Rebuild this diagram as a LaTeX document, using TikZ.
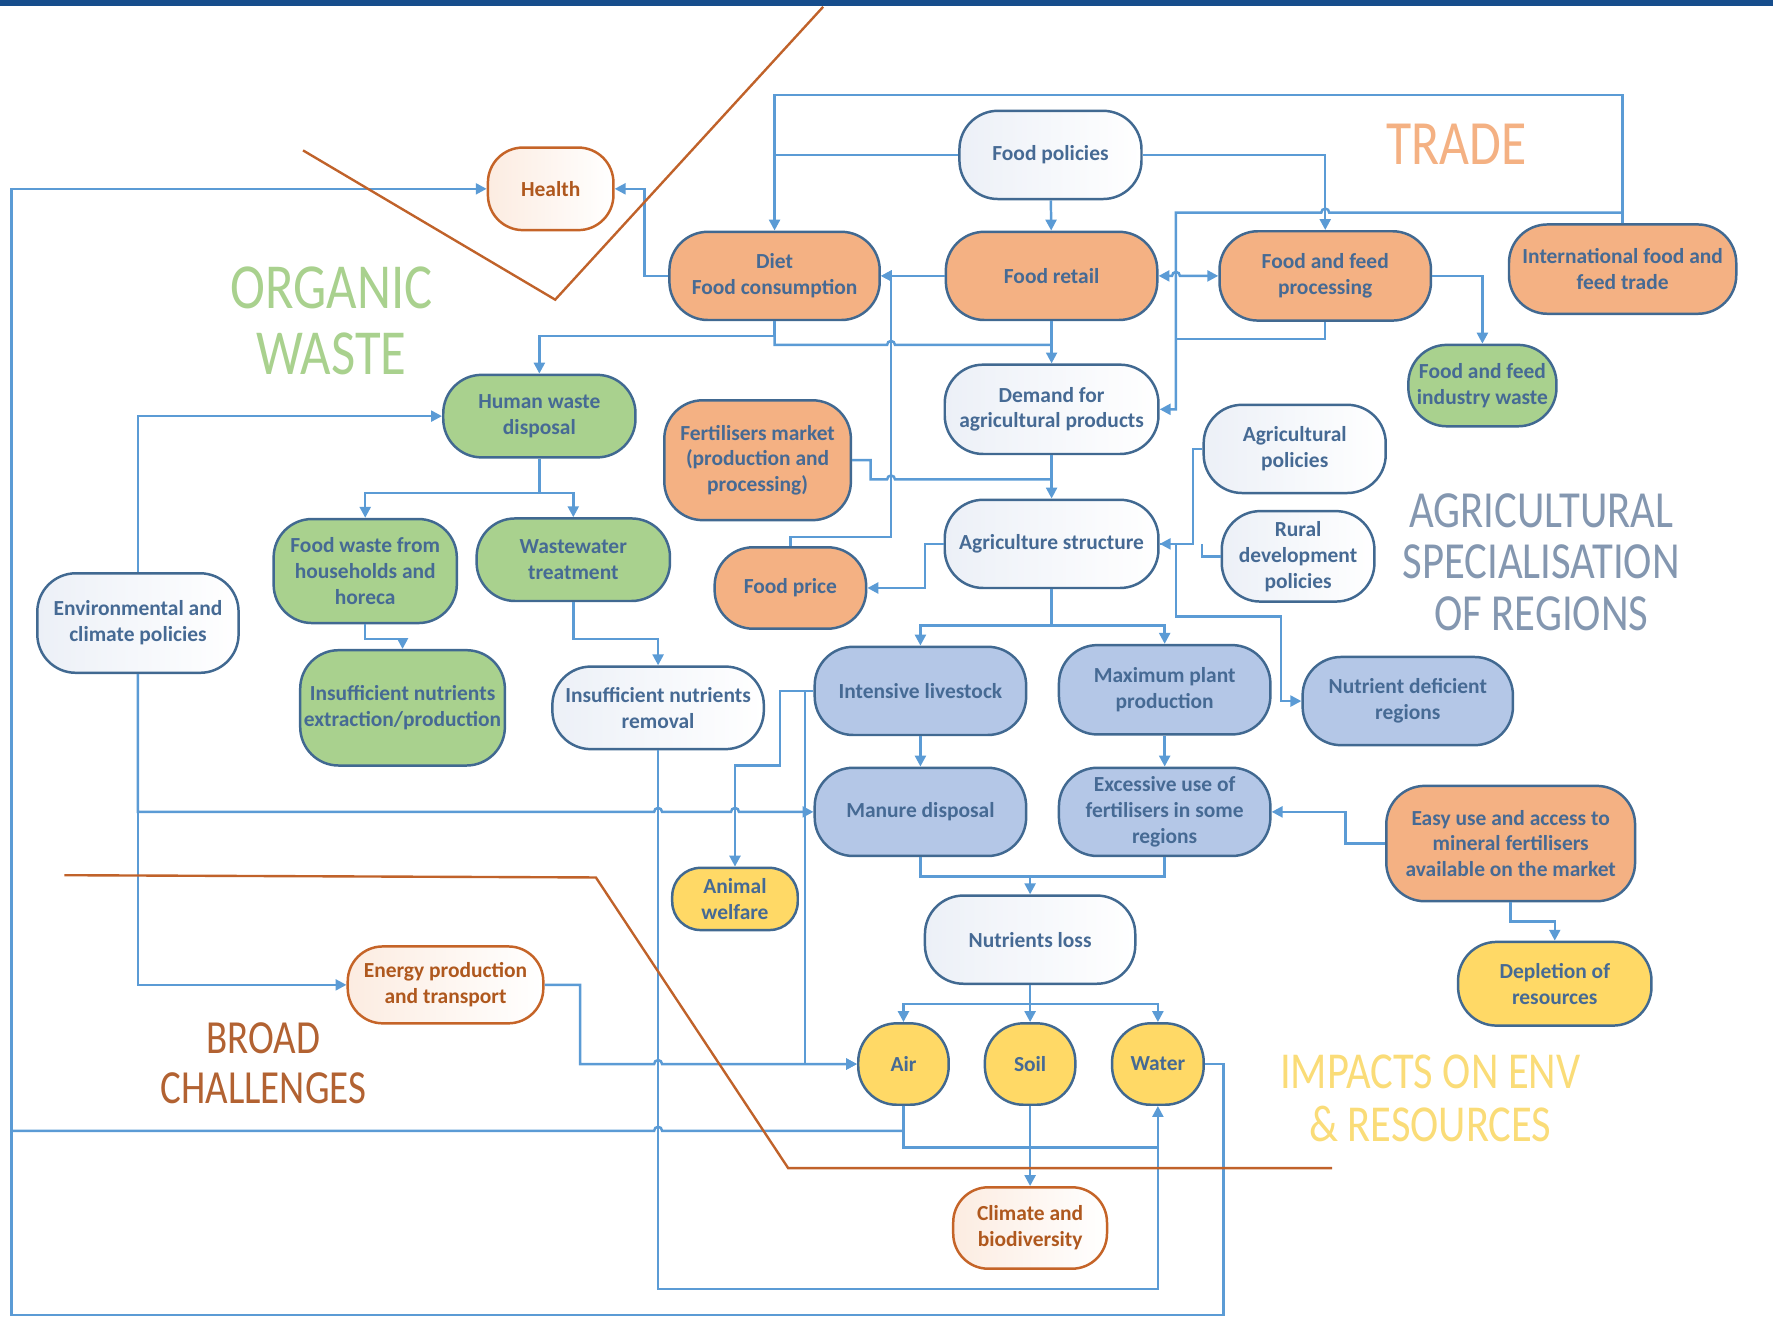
\documentclass[tikz,border=0pt]{standalone}
\usepackage{fontspec}
\setmainfont{Carlito}
\usepackage{graphicx}
\usepackage{tikz}
\usetikzlibrary{arrows.meta}
\usetikzlibrary{positioning}
\definecolor{barblue}{RGB}{22,77,140}
\definecolor{linkblue}{RGB}{91,155,213}
\definecolor{boxline}{RGB}{65,105,145}
\definecolor{boxtext}{RGB}{70,106,148}
\definecolor{orangefill}{RGB}{244,177,131}
\definecolor{greenfill}{RGB}{169,209,142}
\definecolor{bluefill}{RGB}{180,199,231}
\definecolor{yellowfill}{RGB}{255,217,102}
\definecolor{whitetint}{RGB}{236,240,247}
\definecolor{browntint}{RGB}{252,236,225}
\definecolor{brownline}{RGB}{197,100,40}
\definecolor{browntext}{RGB}{175,88,30}
\definecolor{dividercol}{RGB}{192,98,42}
\definecolor{organiccol}{RGB}{169,209,142}
\definecolor{tradecol}{RGB}{244,177,131}
\definecolor{agricol}{RGB}{132,151,176}
\definecolor{broadcol}{RGB}{178,98,50}
\definecolor{impactcol}{RGB}{250,220,120}
\newcommand{\stretchup}[1]{\scalebox{1}[1.22]{#1}}
\tikzset{box/.style={rectangle,rounded corners=0.68cm,draw=boxline,line width=1.25pt,align=center,text=boxtext,inner sep=1pt,font=\fontsize{10.8}{13}\selectfont\bfseries}}
\tikzset{orangebox/.style={box,fill=orangefill}}
\tikzset{greenbox/.style={box,fill=greenfill}}
\tikzset{bluebox/.style={box,fill=bluefill}}
\tikzset{yellowbox/.style={box,fill=yellowfill}}
\tikzset{whitebox/.style={box,left color=whitetint,right color=white}}
\tikzset{brownbox/.style={box,draw=brownline,text=browntext,left color=browntint,right color=white,rounded corners=0.62cm}}
\tikzset{sz/.style 2 args={minimum width=#1*0.02cm,minimum height=#2*0.02cm}}
\tikzset{wire/.style={draw=linkblue,line width=1.25pt,>={Triangle[length=5.5pt,width=5.5pt]}}}
\tikzset{divider/.style={draw=dividercol,line width=1.2pt}}
\tikzset{region/.style={align=center,inner sep=0pt}}

\begin{document}
\begin{tikzpicture}[x=0.02cm,y=-0.02cm]
  \useasboundingbox (0,0) rectangle (1568,1167);
  \fill[barblue] (0,0) rectangle (1568,5);

  % region labels
  \node[region,text=organiccol,font=\fontsize{26.5}{33}\selectfont] (organic) at (293,284)
    {\stretchup{ORGANIC}\\\stretchup{WASTE}};
  \node[region,text=tradecol,font=\fontsize{26}{31}\selectfont] (trade) at (1288,128)
    {\stretchup{TRADE}};
  \node[region,text=agricol,font=\fontsize{21.5}{26}\selectfont] (agri) at (1363,497)
    {\stretchup{AGRICULTURAL}\\\stretchup{SPECIALISATION}\\\stretchup{OF REGIONS}};
  \node[region,text=broadcol,font=\fontsize{19.6}{25}\selectfont] (broad) at (233,940)
    {\stretchup{BROAD}\\\stretchup{CHALLENGES}};
  \node[region,text=impactcol,font=\fontsize{21.4}{26.6}\selectfont] (impacts) at (1265,971)
    {\stretchup{IMPACTS ON ENV}\\\stretchup{\& RESOURCES}};

  % boxes
  \node[whitebox,sz={161}{78}] (foodpol) at (929,137) {Food policies};
  \node[brownbox,sz={111}{73}] (health) at (487,167) {Health};
  \node[orangebox,sz={186}{78}] (diet) at (685,244) {Diet\\Food consumption};
  \node[orangebox,sz={187}{78}] (retail) at (930,244) {Food retail};
  \node[orangebox,sz={187}{79}] (process) at (1172,244) {Food and feed\\processing};
  \node[orangebox,sz={201}{79}] (intl) at (1435,238) {International food and\\feed trade};
  \node[greenbox,sz={131}{72}] (indwaste) at (1311,341) {Food and feed\\industry waste};
  \node[whitebox,sz={189}{79}] (demand) at (930,362) {Demand for\\agricultural products};
  \node[greenbox,sz={170}{73}] (human) at (477,368) {Human waste\\disposal};
  \node[orangebox,sz={165}{106}] (fertmkt) at (670,407) {Fertilisers market\\(production and\\processing)};
  \node[whitebox,sz={161}{78}] (agpol) at (1145,397) {Agricultural\\policies};
  \node[whitebox,sz={189}{78}] (agstruct) at (930,481) {Agriculture structure};
  \node[whitebox,sz={135}{80}] (rural) at (1148,492) {Rural\\development\\policies};
  \node[orangebox,sz={134}{72}] (price) at (699,520) {Food price};
  \node[greenbox,sz={162}{92}] (foodwaste) at (323,505) {Food waste from\\households and\\horeca};
  \node[greenbox,sz={171}{73}] (wwater) at (507,495) {Wastewater\\treatment};
  \node[whitebox,sz={178}{88}] (envpol) at (122,551) {Environmental and\\climate policies};
  \node[greenbox,sz={181}{102}] (extract) at (356,626) {Insufficient nutrients\\extraction/production};
  \node[whitebox,sz={187}{73}] (removal) at (582,626) {Insufficient nutrients\\removal};
  \node[bluebox,sz={187}{78}] (livestock) at (814,611) {Intensive livestock};
  \node[bluebox,sz={187}{79}] (plant) at (1030,610) {Maximum plant\\production};
  \node[bluebox,sz={186}{78}] (deficient) at (1245,620) {Nutrient deficient\\regions};
  \node[bluebox,sz={187}{78}] (manure) at (814,718) {Manure disposal};
  \node[bluebox,sz={187}{78}] (excess) at (1030,718) {Excessive use of\\fertilisers in some\\regions};
  \node[orangebox,sz={220}{102}] (easy) at (1336,746) {Easy use and access to\\mineral fertilisers\\available on the market};
  \node[yellowbox,sz={111}{55},rounded corners=0.5cm] (animal) at (650,795) {Animal\\welfare};
  \node[whitebox,sz={186}{78}] (loss) at (911,831) {Nutrients loss};
  \node[yellowbox,sz={171}{74}] (depletion) at (1375,870) {Depletion of\\resources};
  \node[brownbox,sz={173}{68}] (energy) at (394,871) {Energy production\\and transport};
  \node[yellowbox,sz={80}{72}] (air) at (799,941) {Air};
  \node[yellowbox,sz={80}{72}] (soil) at (911,941) {Soil};
  \node[yellowbox,sz={81}{72}] (water) at (1024,941) {Water};
  \node[brownbox,sz={136}{72}] (climate) at (911,1086) {Climate and\\biodiversity};

  % trade and food chain
  \draw[wire,->] (intl.north) |- (685,84) -- (diet.north);
  \draw[wire] (foodpol.west) -- (685,137);
  \draw[wire,->] (foodpol.east) -| (process.north);
  \draw[wire,->] (foodpol) -- (retail);
  \draw[wire,->] (intl.north) -- (1435,188) -- (1175.5,188)
    arc[start angle=0,end angle=180,radius=0.07cm] -| (1040,362) -- (demand.east);
  \draw[wire] (process.south) |- (1040,300);
  \draw[wire,<->] (retail.east) -- (1036.5,244)
    arc[start angle=180,end angle=0,radius=0.07cm] -- (process.west);
  \draw[wire,->] (retail.west) -- (diet.east);
  \draw[wire,->] (price.north) |- (788,475) |- (diet.east);
  \draw[wire,->] (diet.south) -- (685,297) -| (human.north);
  \draw[wire] (diet.south) |- (784.5,305)
    arc[start angle=180,end angle=0,radius=0.07cm] -- (930,305);
  \draw[wire,->] (retail) -- (demand);
  \draw[wire,->] (diet.west) -| (570,167) -- (health.east);
  \draw[wire,->] (process.east) -| (indwaste.north);

  % agriculture
  \draw[wire,->] (demand) -- (agstruct);
  \draw[wire] (fertmkt.east) -| (770,424) -- (784.5,424)
    arc[start angle=180,end angle=0,radius=0.07cm] -- (930,424);
  \draw[wire,->] (agpol.west) -| (1055,481) -- (agstruct.east);
  \draw[wire] (rural.west) -| (1063,481);
  \draw[wire,->] (agstruct.east) -- (1040,481) |- (1133,545) |- (deficient.west);
  \draw[wire,->] (agstruct.west) -| (818,520) -- (price.east);
  \draw[wire,->] (agstruct.south) -- (930,553) -| (livestock.north);
  \draw[wire,->] (agstruct.south) -- (930,553) -| (plant.north);
  \draw[wire,->] (livestock) -- (manure);
  \draw[wire,->] (plant) -- (excess);
  \draw[wire,->] (manure.south) |- (911,775) -- (loss.north);
  \draw[wire] (excess.south) |- (911,775);
  \draw[wire,->] (easy.west) -| (1190,718) -- (excess.east);
  \draw[wire,->] (easy.south) -- (1336,815) -| (depletion.north);
  \draw[wire,->] (livestock.west) -| (712,941) -- (air.west);
  \draw[wire,->] (livestock.west) -| (690,677) -| (animal.north);

  % organic waste
  \draw[wire,->] (human.south) -- (477,436) -| (foodwaste.north);
  \draw[wire,->] (human.south) -- (477,436) -| (wwater.north);
  \draw[wire,->] (foodwaste.south) -- (323,565) -| (extract.north);
  \draw[wire,->] (wwater.south) -- (507,565) -| (removal.north);
  \draw[wire,->] (envpol.north) |- (human.west);
  \draw[wire,->] (envpol.south) |- (578.5,718)
    arc[start angle=180,end angle=0,radius=0.07cm] -- (646.5,718)
    arc[start angle=180,end angle=0,radius=0.07cm] -- (manure.west);
  \draw[wire,->] (envpol.south) |- (energy.west);
  \draw[wire,->] (energy.east) -| (513,941) -- (578.5,941)
    arc[start angle=180,end angle=0,radius=0.07cm] -- (air.west);

  % impacts
  \draw[wire,->] (loss) -- (soil);
  \draw[wire,->] (loss.south) -- (911,888) -| (air.north);
  \draw[wire,->] (loss.south) -- (911,888) -| (water.north);
  \draw[wire,->] (soil) -- (climate);
  \draw[wire,->] (removal.south) |- (1024,1140) -- (water.south);
  \draw[wire] (air.south) |- (1024,1015);
  \draw[wire] (air.south) |- (585.5,1000)
    arc[start angle=0,end angle=180,radius=0.07cm] -- (10,1000);
  \draw[wire,->] (water.east) -| (1082,1163) -| (10,167) -- (health.west);

  % region borders
  \draw[divider] (268,133) -- (491,265) -- (728,6);
  \draw[divider] (57,774) -- (527,776) -- (697,1033) -- (1178,1033);
\end{tikzpicture}
\end{document}
